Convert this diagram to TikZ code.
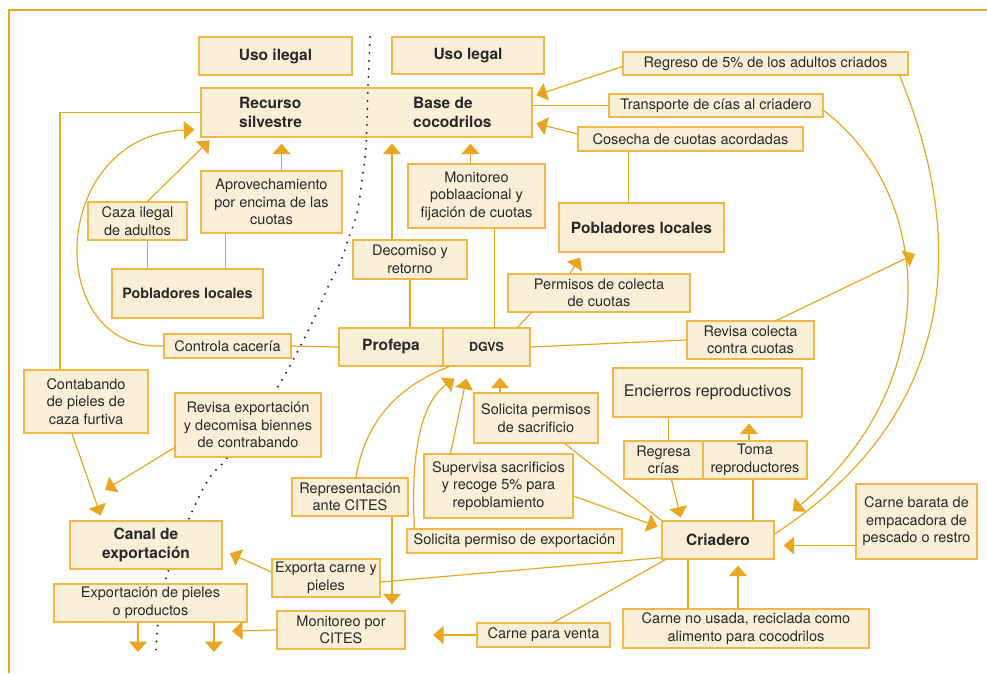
\documentclass[tikz,border=0pt]{standalone}
\usepackage{fontspec}
\setmainfont{TeX Gyre Heros}
\usepackage{tikz}
\usetikzlibrary{
  arrows.meta,
  calc,
  positioning,
}
\definecolor{pantoneline}{RGB}{233, 166, 32}
\definecolor{pantonebox}{RGB}{241, 184, 72}
\definecolor{pantonefill}{RGB}{252, 239, 216}
\definecolor{ink}{RGB}{40, 40, 40}
\newcommand{\dgtext}{\fontsize{14.5}{17.5}\selectfont}
\newcommand{\dghead}{\fontsize{15.5}{19}\selectfont\bfseries}
\newcommand{\dgsmallhead}{\fontsize{14.3}{17}\selectfont\bfseries}
\tikzstyle{box} = [
  rectangle,
  draw=pantonebox,
  fill=pantonefill,
  line width=1.2pt,
  inner sep=1pt,
  align=center,
  text=ink,
  font=\dgtext,
]
\tikzstyle{hbox} = [box, font=\dghead]
\tikzstyle{arrow} = [
  -{Triangle[width=18pt,length=10.5pt]},
  line width=1.2pt,
  pantoneline,
  shorten >=6pt,
]
\tikzstyle{link} = [-, line width=1.2pt, pantoneline]
\tikzstyle{divider} = [
  black!85,
  line width=2.2pt,
  line cap=round,
  dash pattern=on 0pt off 8pt,
]

\begin{document}
\begin{tikzpicture}[x=1pt,y=-1pt]
			\useasboundingbox (0,0) rectangle (987,673);
			\draw[pantoneline,line width=2pt] (9,673) -- (9,10) -- (987,10);

			\node[hbox,minimum width=153,minimum height=38] (ilegal) at (275.5,56) {Uso ilegal};
			\node[hbox,minimum width=152,minimum height=37] (legal) at (468,55.5) {Uso legal};
			\node[box,minimum width=331,minimum height=49] (base) at (366.5,112.5) {};
			\node[font=\dghead,text=ink,align=left,anchor=west,inner sep=0pt] (silv) at (239,112.5) {Recurso\\silvestre};
			\node[font=\dghead,text=ink,align=left,anchor=west,inner sep=0pt] (cocod) at (413,112.5) {Base de\\cocodrilos};

			\draw[divider] plot[smooth,tension=0.6] coordinates {(370,37) (368,88) (366,147) (362,180) (357,213) (348,240) (340,263) (328,287) (318,310) (307,333) (293,360) (275,391) (227,458) (210,477) (191,514) (167,575) (158,623) (156,657)};

			\node[box,minimum width=99,minimum height=38] (caza) at (137.5,221) {Caza ilegal\\de adultos};
			\node[box,minimum width=141,minimum height=62] (aprov) at (271.5,202) {Aprovechamiento\\por encima de las\\cuotas};
			\node[hbox,font=\dgsmallhead,minimum width=151,minimum height=49] (pobizq) at (187.5,293.5) {Pobladores locales};
			\node[box,minimum width=114,minimum height=39] (decomiso) at (410,259.5) {Decomiso y\\retorno};
			\node[box,minimum width=137,minimum height=64] (monit) at (476.5,196) {Monitoreo\\poblaacional y\\fijación de cuotas};
			\node[box,minimum width=285,minimum height=23] (regreso) at (765.5,63.5) {Regreso de 5\% de los adultos criados};
			\node[box,minimum width=214,minimum height=23] (transp) at (716,105.5) {Transporte de cías al criadero};
			\node[box,minimum width=225,minimum height=24] (cosecha) at (690.5,139) {Cosecha de cuotas acordadas};
			\node[hbox,minimum width=165,minimum height=49] (pobder) at (641.5,227.5) {Pobladores locales};
			\node[box,minimum width=182,minimum height=38] (permisos) at (599,293) {Permisos de colecta\\de cuotas};
			\node[box,minimum width=127,minimum height=38] (revcol) at (750.5,340) {Revisa colecta\\contra cuotas};
			\node[box,minimum width=127,minimum height=24] (controla) at (227.5,346) {Controla cacería};
			\node[hbox,minimum width=104,minimum height=38] (profepa) at (391,347) {Profepa};
			\node[hbox,font=\fontsize{12.5}{15}\selectfont\bfseries,minimum width=87,minimum height=38] (dgvs) [right=-1.2pt of profepa] {DGVS};
			\node[box,minimum width=124,minimum height=63] (contab) at (86,401.5) {Contabando\\de pieles de\\caza furtiva};
			\node[box,minimum width=146,minimum height=64] (revexp) at (248,425) {Revisa exportación\\y decomisa biennes\\de contrabando};
			\node[box,minimum width=116,minimum height=38] (repres) at (350,497) {Representación\\ante CITES};
			\node[box,minimum width=124,minimum height=50] (solsac) at (536,418) {Solicita permisos\\de sacrificio};
			\node[box,minimum width=149,minimum height=64] (superv) at (498.5,486) {Supervisa sacrificios\\y recoge 5\% para\\repoblamiento};
			\node[box,minimum width=215,minimum height=24] (solexp) at (514.5,541) {Solicita permiso de exportación};
			\node[box,font=\fontsize{16}{19}\selectfont,minimum width=189,minimum height=49] (encierros) at (707.5,392.5) {Encierros reproductivos};
			\node[box,minimum width=79,minimum height=38] (regresa) at (663.5,460) {Regresa\\crías};
			\node[box,minimum width=104,minimum height=38] (toma) [right=-1.2pt of regresa] {Toma\\reproductores};
			\node[hbox,minimum width=112,minimum height=38] (criadero) at (718,540) {Criadero};
			\node[box,minimum width=121,minimum height=75] (barata) at (916.5,521.5) {Carne barata de\\empacadora de\\pescado o restro};
			\node[hbox,minimum width=152,minimum height=48] (canal) at (146,545) {Canal de\\exportación};
			\node[box,minimum width=108,minimum height=38] (exporta) at (326,578) {Exporta carne y\\pieles};
			\node[box,minimum width=193,minimum height=38] (exppiel) at (150.5,603) {Exportación de pieles\\o productos};
			\node[box,minimum width=128,minimum height=38] (citesmon) at (341,630) {Monitoreo por\\CITES};
			\node[box,minimum width=133,minimum height=24] (venta) at (543.5,635) {Carne para venta};
			\node[box,minimum width=246,minimum height=39] (nousada) at (746,628.5) {Carne no usada, reciclada como\\alimento para cocodrilos};

			\coordinate (revend) at (915,254);
			\coordinate (revexpend) at (105,490);
			\coordinate (dropa) at (138,652);
			\coordinate (dropb) at (214,652);
			\coordinate (citesend) at (232,631);
			\coordinate (ventaend) at (433,635);

			% lado ilegal
			\draw[link] (base.west) -| ([xshift=-26pt]contab.north);
			\draw[arrow] (controla.west) .. controls (42,352) and (48,135) .. ([yshift=-17pt]base.west);
			\draw[arrow,shorten >=4pt] ([xshift=10pt]caza.north) -- ([xshift=12pt]base.south west);
			\draw[arrow] ([xshift=10pt]aprov.north) -- ([xshift=10pt]aprov.north |- base.south);
			\draw[link] ([xshift=10pt]caza.south) -- ([xshift=10pt]caza.south |- pobizq.north);
			\draw[link] ([xshift=-46pt]aprov.south) -- ([xshift=-46pt]aprov.south |- pobizq.north);
			\draw[link] (controla.east) -- (profepa.west);

			% lado legal
			\draw[arrow] ([xshift=-18pt]decomiso.north) -- ([xshift=-18pt]decomiso.north |- base.south);
			\draw[arrow] ([xshift=-6pt]monit.north) -- ([xshift=-6pt]monit.north |- base.south);
			\draw[link] (decomiso.south) -- (decomiso.south |- profepa.north);
			\draw[link] ([xshift=18pt]monit.south) -- ([xshift=18pt]monit.south |- dgvs.north);
			\draw[arrow,shorten >=4pt] ([yshift=-3pt]regreso.west) -- ([yshift=16pt]base.east);
			\draw[link] (transp.west) -- (transp.west -| base.east);
			\draw[arrow,shorten >=4pt] ([yshift=5pt]cosecha.west) -- ([yshift=-10pt]base.east);
			\draw[link] ([xshift=-62pt]cosecha.south) -- ([xshift=-62pt]cosecha.south |- pobder.north);
			\draw[arrow] ([xshift=-29pt]permisos.north) -- ([xshift=25pt]pobder.south west);
			\draw[link] ([xshift=24pt]permisos.south west) -- ([xshift=-13pt]dgvs.north east);
			\draw[arrow,shorten >=0pt] ([xshift=26pt]revcol.north) -- (revend);
			\draw[link] (dgvs.east) -- (revcol.west);
			\draw[arrow,shorten >=0pt] ([yshift=-5pt]transp.east) .. controls (930,190) and (950,380) .. ([xshift=18pt,yshift=9pt]criadero.north east);
			\draw[link] ([xshift=-9pt]regreso.south east) .. controls (955,210) and (980,400) .. ([yshift=6pt]criadero.east);

			% exportacion
			\draw[arrow,shorten >=5pt] ([xshift=-14pt]contab.south) -- ([xshift=33pt]canal.north west);
			\draw[arrow,shorten >=0pt] ([yshift=10pt]revexp.south west) -- (revexpend);
			\draw[link] ([xshift=6pt]repres.north) .. controls (365,420) and (400,385) .. ([xshift=7pt]dgvs.south west);
			\draw[arrow] ([xshift=42pt]repres.south) -- ([xshift=42pt]repres.south |- citesmon.north);
			\draw[arrow,shorten >=0pt] ([xshift=8pt]solexp.north west) .. controls (410,440) and (425,400) .. ([xshift=12pt,yshift=-12pt]dgvs.south west);
			\draw[arrow,shorten >=0pt] ([xshift=-48pt]superv.north) -- ([xshift=24pt,yshift=-12pt]dgvs.south west);
			\draw[arrow,shorten >=11pt] ([xshift=-36pt]solsac.north) -- ([xshift=-36pt]solsac.north |- dgvs.south);
			\draw[arrow,shorten >=8pt] ([yshift=6pt]exporta.west) -- ([yshift=-5pt]canal.east);
			\draw[link] ([yshift=-4pt]exporta.east) -- ([yshift=2pt]criadero.south west);
			\draw[arrow,shorten >=0pt] (dropa |- exppiel.south) -- (dropa);
			\draw[arrow,shorten >=0pt] (dropb |- exppiel.south) -- (dropb);
			\draw[arrow,shorten >=0pt] (citesmon.west) -- (citesend);

			% criadero
			\draw[link] ([xshift=29pt]solsac.south) -- (criadero.north west);
			\draw[arrow,shorten >=4pt] ([yshift=-10pt]superv.east) -- ([yshift=12pt]criadero.west);
			\draw[link] ([xshift=5pt]regresa.north) -- ([xshift=5pt]regresa.north |- encierros.south);
			\draw[arrow] ([xshift=-6pt]toma.north) -- ([xshift=-6pt]toma.north |- encierros.south);
			\draw[arrow,shorten >=3pt] ([xshift=8pt]regresa.south) -- ([xshift=20pt]criadero.north west);
			\draw[link] ([xshift=-2pt]toma.south) -- ([xshift=-2pt]toma.south |- criadero.north);
			\draw[arrow,shorten >=9pt] ([yshift=-24pt]barata.west) -- ([yshift=-24pt]barata.west -| criadero.east);
			\draw[link] ([xshift=4pt]criadero.south west) -- ([xshift=10pt]venta.north);
			\draw[arrow,shorten >=0pt] (venta.west) -- (ventaend);
			\draw[link] ([xshift=-30pt]criadero.south) -- ([xshift=-30pt]criadero.south |- nousada.north);
			\draw[arrow] ([xshift=-8pt]nousada.north) -- ([xshift=-8pt]nousada.north |- criadero.south);
\end{tikzpicture}
\end{document}
